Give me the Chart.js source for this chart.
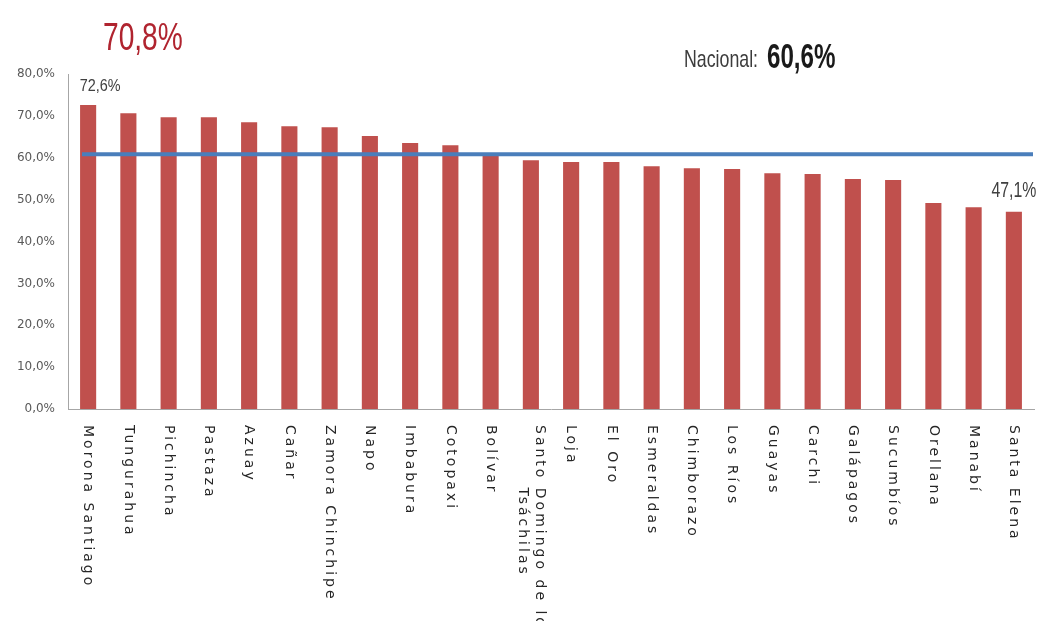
<!DOCTYPE html>
<html>
<head>
<meta charset="utf-8">
<script src="https://cdn.jsdelivr.net/npm/chart.js@4"></script>
<style>
html,body{margin:0;padding:0;background:#fff;}
#wrap{position:relative;width:1041px;height:621px;}
</style>
</head>
<body>
<div id="wrap"><canvas id="c"></canvas></div>
<script>
const categories = ['Morona Santiago','Tungurahua','Pichincha','Pastaza','Azuay','Cañar','Zamora Chinchipe','Napo','Imbabura','Cotopaxi','Bolívar',['Santo Domingo de los','Tsáchilas'],'Loja','El Oro','Esmeraldas','Chimborazo','Los Ríos','Guayas','Carchi','Galápagos','Sucumbíos','Orellana','Manabí','Santa Elena'];
const values = [72.6,70.6,69.7,69.7,68.5,67.5,67.3,65.2,63.5,63.0,61.0,59.4,59.0,59.0,58.0,57.5,57.3,56.3,56.1,54.9,54.7,49.2,48.2,47.1];
const nationalValue = 60.6;
const headlineText = '70,8%';
const nationalLabel = 'Nacional: ';
const nationalText = '60,6%';
const labeledIndices = [0, 23];
const yTicks = [0,10,20,30,40,50,60,70,80];

const fmt = v => v.toFixed(1).replace('.', ',') + '%';

const overlay = {
  id: 'overlay',
  afterDatasetsDraw(chart) {
    const ctx = chart.ctx;
    const y = chart.scales.y, a = chart.chartArea;
    const ly = y.getPixelForValue(nationalValue) - 1;
    ctx.save();
    ctx.strokeStyle = '#4A7EBB';
    ctx.lineWidth = 4;
    ctx.beginPath();
    ctx.moveTo(a.left + 14, ly);
    ctx.lineTo(a.right - 1, ly);
    ctx.stroke();
    ctx.restore();
  },
  afterDraw(chart) {
    const ctx = chart.ctx;
    const x = chart.scales.x, a = chart.chartArea;
    // x labels, rotated clockwise
    ctx.save();
    ctx.fillStyle = '#262626';
    ctx.font = '14px "DejaVu Sans"';
    ctx.letterSpacing = '3px';
    ctx.textBaseline = 'middle';
    categories.forEach((lab, i) => {
      const px = x.getPixelForTick(i);
      const lines = Array.isArray(lab) ? lab : [lab];
      const widths = lines.map(l => ctx.measureText(l).width);
      const maxW = Math.max(...widths);
      const lh = 17;
      ctx.save();
      ctx.translate(px, a.bottom + 16);
      ctx.rotate(Math.PI / 2);
      lines.forEach((l, k) => {
        const off = (k - (lines.length - 1) / 2) * lh;
        ctx.textAlign = 'left';
        ctx.fillText(l, (maxW - widths[k]) / 2, off);
      });
      ctx.restore();
    });
    ctx.restore();

    // value labels
    const meta = chart.getDatasetMeta(0);
    labeledIndices.forEach((i, n) => {
      const bar = meta.data[i];
      ctx.save();
      ctx.fillStyle = '#404040';
      const big = n === 1;
      ctx.font = (big ? '22px' : '16px') + ' "Liberation Sans"';
      ctx.textAlign = 'center';
      ctx.textBaseline = 'alphabetic';
      ctx.translate(bar.x + (big ? 0 : 12), bar.y - (big ? 15 : 14));
      ctx.scale(big ? 0.72 : 0.9, 1);
      ctx.fillText(fmt(values[i]), 0, 0);
      ctx.restore();
    });

    // headline
    ctx.save();
    ctx.fillStyle = '#B0242F';
    ctx.font = '38px "Liberation Sans"';
    ctx.textAlign = 'left';
    ctx.translate(103, 50);
    ctx.scale(0.74, 1);
    ctx.fillText(headlineText, 0, 0);
    ctx.restore();

    // national annotation
    ctx.save();
    ctx.fillStyle = '#3c3c3c';
    ctx.font = '24px "Liberation Sans"';
    ctx.translate(684, 67);
    ctx.scale(0.74, 1);
    ctx.fillText(nationalLabel.trim(), 0, 0);
    const w1 = ctx.measureText(nationalLabel).width;
    ctx.restore();
    ctx.save();
    ctx.fillStyle = '#1a1a1a';
    ctx.font = 'bold 35px "Liberation Sans"';
    ctx.translate(684 + w1 * 0.74 + 4, 68);
    ctx.scale(0.69, 1);
    ctx.fillText(nationalText, 0, 0);
    ctx.restore();
  }
};

new Chart(document.getElementById('c'), {
  type: 'bar',
  data: {
    labels: categories,
    datasets: [{
      data: values,
      backgroundColor: '#C0504D',
      borderWidth: 0,
      barPercentage: 0.4,
      categoryPercentage: 1.0
    }]
  },
  options: {
    responsive: true,
    maintainAspectRatio: false,
    animation: false,
    devicePixelRatio: 1,
    layout: { padding: { top: 74, bottom: 212, left: 0, right: 7 } },
    plugins: { legend: { display: false }, tooltip: { enabled: false }, title: { display: false } },
    scales: {
      x: {
        grid: { display: false, drawTicks: false },
        border: { display: true, color: '#A6A6A6', width: 1 },
        ticks: { display: false },
        afterFit(s) { s.height = 0; }
      },
      y: {
        min: 0, max: 80,
        afterBuildTicks(s) { s.ticks = yTicks.map(v => ({ value: v })); },
        grid: { display: false, drawTicks: false },
        border: { display: true, color: '#A6A6A6', width: 1 },
        ticks: {
          color: '#595959',
          font: { family: 'DejaVu Sans', size: 12 },
          padding: 13,
          callback: v => fmt(v)
        },
        afterFit(s) { s.width = 68; }
      }
    }
  },
  plugins: [overlay]
});
</script>
</body>
</html>
